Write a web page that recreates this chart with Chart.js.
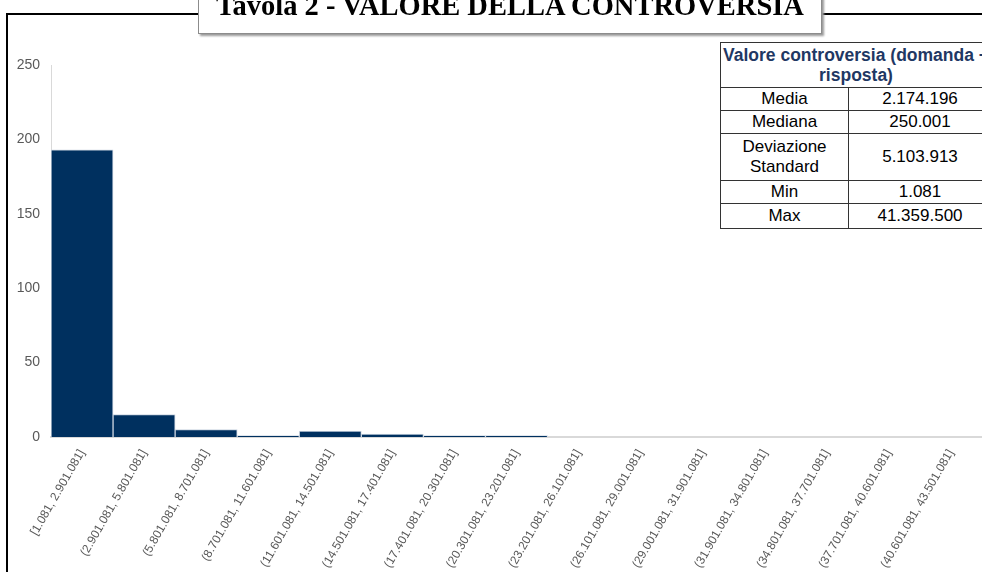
<!DOCTYPE html>
<html><head><meta charset="utf-8">
<script src="https://cdn.jsdelivr.net/npm/chart.js@4"></script>
<style>
html,body{margin:0;padding:0;background:#fff;width:982px;height:572px;overflow:hidden;position:relative;font-family:"Liberation Sans",Arial,sans-serif;}
#frameL{position:absolute;left:6px;top:13px;width:2px;height:600px;background:#000;}
#frameT{position:absolute;left:6px;top:13px;width:1000px;height:2px;background:#000;}
#titlebox{position:absolute;left:198px;top:-20px;width:622px;height:52px;background:#fff;border:1px solid #8c8c8c;box-shadow:2px 2px 2px #9a9a9a;}
#title{position:absolute;left:0;right:0;top:9px;text-align:center;font-family:"Liberation Serif","Times New Roman",serif;font-weight:bold;font-size:28.5px;line-height:32px;color:#000;white-space:nowrap;}
#wrap{position:absolute;left:0;top:0;width:982px;height:572px;}
#stats{position:absolute;left:720px;top:42px;width:272px;border-collapse:collapse;background:#fff;font-family:"Liberation Sans",Arial,sans-serif;font-size:17px;}
#stats td,#stats th{border:1.5px solid #333;text-align:center;padding:0;line-height:20px;}
#stats th{color:#1f3864;font-weight:bold;font-size:17.5px;height:44px;line-height:20px;}
#stats td{height:22px;}
</style></head>
<body>
<div id="wrap"><canvas id="c" width="982" height="572"></canvas></div>
<div id="frameL"></div><div id="frameT"></div>
<div id="titlebox"><div id="title">Tavola 2 - VALORE DELLA CONTROVERSIA</div></div>
<table id="stats">
<tr><th colspan="2">Valore controversia (domanda + risposta)</th></tr>
<tbody id="rows"></tbody>
</table>
<script>
const categories = ["[1.081, 2.901.081]","(2.901.081, 5.801.081]","(5.801.081, 8.701.081]","(8.701.081, 11.601.081]","(11.601.081, 14.501.081]","(14.501.081, 17.401.081]","(17.401.081, 20.301.081]","(20.301.081, 23.201.081]","(23.201.081, 26.101.081]","(26.101.081, 29.001.081]","(29.001.081, 31.901.081]","(31.901.081, 34.801.081]","(34.801.081, 37.701.081]","(37.701.081, 40.601.081]","(40.601.081, 43.501.081]"];
const counts = [193, 15, 5, 1, 4, 2, 1, 1, 0, 0, 0, 0, 0, 0, 0];
const yTicks = [0, 50, 100, 150, 200, 250];
const statLabels = ["Media", "Mediana", "Deviazione<br>Standard", "Min", "Max"];
const statValues = ["2.174.196", "250.001", "5.103.913", "1.081", "41.359.500"];

const rows = document.getElementById('rows');
statLabels.forEach((l, i) => {
  const tr = document.createElement('tr');
  tr.innerHTML = '<td style="width:127px">' + l + '</td><td>' + statValues[i] + '</td>';
  if (i === 2) tr.children[0].style.height = '46px';
  if (i === 4) tr.children[0].style.height = '24px';
  rows.appendChild(tr);
});

new Chart(document.getElementById('c'), {
  type: 'bar',
  data: { labels: categories, datasets: [{ data: counts, backgroundColor: '#00305f', borderColor: '#c9d3df', borderWidth: 1, barPercentage: 1, categoryPercentage: 1, borderSkipped: 'bottom' }] },
  options: {
    responsive: false, animation: false,
    layout: { padding: { top: 65, left: 0, right: 0, bottom: 0 } },
    plugins: { legend: { display: false }, tooltip: { enabled: false } },
    scales: {
      x: {
        grid: { display: false },
        border: { display: true, color: '#d9d9d9', width: 2 },
        ticks: { color: '#595959', font: { family: 'Liberation Sans', size: 12 }, minRotation: 60, maxRotation: 60, autoSkip: false, padding: 2 },
        afterFit: s => { s.height = 135; }
      },
      y: {
        min: 0, max: 250,
        afterBuildTicks: s => { s.ticks = yTicks.map(v => ({ value: v })); },
        grid: { display: false },
        border: { display: true, color: '#d9d9d9', width: 1 },
        ticks: { color: '#595959', font: { family: 'Liberation Sans', size: 14 }, padding: 3 },
        afterFit: s => { s.width = 51; }
      }
    }
  }
});
</script>
</body></html>
